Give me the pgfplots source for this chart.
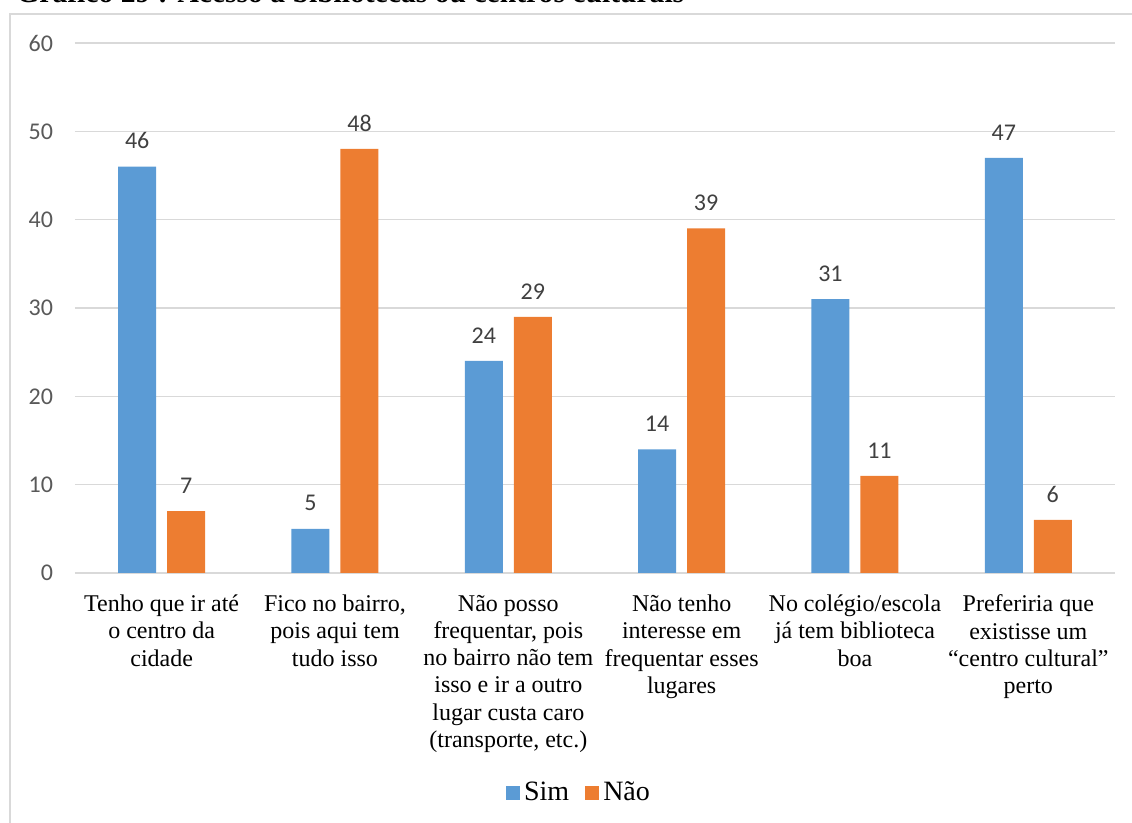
\documentclass[border=0pt]{standalone}
\usepackage{fontspec}
\setmainfont{Liberation Serif}
\newfontfamily\calibri{Carlito}
\usepackage{pgfplots}
\pgfplotsset{compat=1.18}
\definecolor{cblue}{HTML}{5B9BD5}
\definecolor{corange}{HTML}{ED7D31}
\definecolor{cgrid}{HTML}{D9D9D9}
\definecolor{ctick}{HTML}{595959}
\definecolor{clabel}{HTML}{404040}
\begin{document}
\begin{tikzpicture}[x=1pt,y=1pt]
\useasboundingbox (-37.5,-125) rectangle (528.5,286.5);
\draw[cgrid, line width=1pt] (600,279.5) -- (-32.25,279.5) -- (-32.25,-200);
\node[anchor=base west, inner sep=0, font=\bfseries\fontsize{14.8}{17}\selectfont] at (-29.5,285) {Gráfico 29 : Acesso a bibliotecas ou centros culturais};
\begin{axis}[
  at={(0,0)}, anchor=south west,
  scale only axis, width=520pt, height=265pt,
  xmin=-0.5, xmax=5.5, ymin=0, ymax=60,
  ybar=5.5pt, bar width=19pt,
  axis line style={draw=none},
  major tick length=0pt,
  ymajorgrids, grid style={cgrid, line width=0.75pt},
  ytick={0,10,...,60},
  xtick={0,1,2,3,4,5},
  xticklabels={
    {Tenho que ir até\\o centro da\\cidade},
    {Fico no bairro,\\pois aqui tem\\tudo isso},
    {Não posso\\frequentar, pois\\no bairro não tem\\isso e ir a outro\\lugar custa caro\\(transporte, etc.)},
    {Não tenho\\interesse em\\frequentar esses\\lugares},
    {No colégio/escola\\já tem biblioteca\\boa},
    {Preferiria que\\existisse um\\“centro cultural”\\perto}},
  xticklabel style={font=\fontsize{12}{13.6}\selectfont, align=center, yshift=-7.5pt, text=black},
  yticklabel style={font=\calibri\fontsize{12}{14}\selectfont, text=ctick, xshift=-7.5pt},
  /pgf/number format/assume math mode=true,
  nodes near coords,
  nodes near coords style={font=\calibri\fontsize{12}{14}\selectfont, text=clabel, yshift=5.3pt},
  clip=false,
  legend style={at={(0.4856,-0.415)}, anchor=center, draw=none, fill=none,
    legend columns=2, font=\fontsize{14}{16}\selectfont,
    /tikz/every even column/.append style={column sep=6pt}},
  legend image code/.code={\fill[#1] (0pt,-3.5pt) rectangle (7pt,3.5pt);},
]
\addplot[fill=cblue, draw=none] coordinates {(0,46) (1,5) (2,24) (3,14) (4,31) (5,47)};
\addplot[fill=corange, draw=none] coordinates {(0,7) (1,48) (2,29) (3,39) (4,11) (5,6)};
\legend{Sim,Não}
\end{axis}
\end{tikzpicture}
\end{document}
